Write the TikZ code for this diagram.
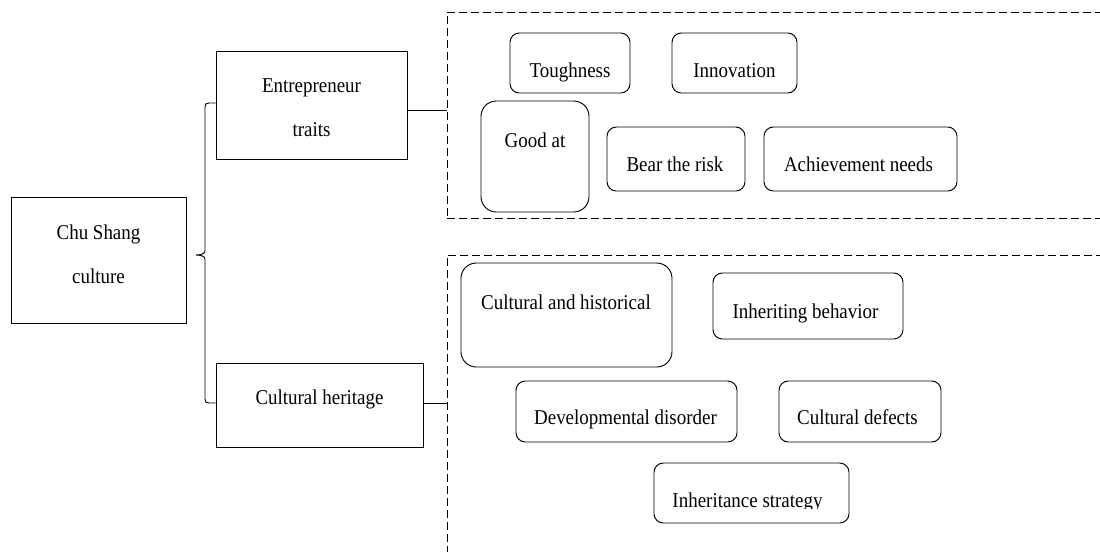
\documentclass[tikz,border=0pt]{standalone}
\usepackage{fontspec}
\setmainfont{Liberation Serif}[FakeStretch=0.9]
\begin{document}
\begin{tikzpicture}[x=0.75pt,y=-0.75pt,
  line width=0.7pt,
  wh/.style 2 args={minimum width=#1*0.75pt, minimum height=#2*0.75pt},
  sqbox/.style={draw, rectangle, inner sep=0pt},
  rbox/.style={draw, rectangle, rounded corners=7pt, inner sep=0pt},
  bigr/.style={rbox, rounded corners=11.5pt},
  group/.style={draw, rectangle, inner sep=0pt, line width=0.65pt, dash pattern=on 6pt off 3pt},
  lbl/.style={anchor=base, inner sep=0pt, font=\fontsize{15.8}{19}\selectfont}]
\useasboundingbox (0,0) rectangle (1100,551);
\clip (0,0) rectangle (1100,551);

% left part: root and the two branches
\node[sqbox, wh={175}{126}] (chu)   at (98.5,260) {};
\node[sqbox, wh={191}{108}] (entre) at (311.5,105) {};
\node[sqbox, wh={207}{84}]  (heri)  at (319.5,405) {};
\node[lbl] (chuA) at (98.5,239) {Chu Shang};
\node[lbl] (chuB) at (98.5,283) {culture};
\node[lbl] (entA) at (311.5,92) {Entrepreneur};
\node[lbl] (entB) at (311.5,136) {traits};
\node[lbl] (herA) at (319.5,404) {Cultural heritage};

% brace joining the branches
\draw (entre.west |- 0,103) -- (209,103) .. controls (206,103) and (205,104) .. (205,107)
  -- (205,251) .. controls (205,254) and (200,255) .. (196,255)
  .. controls (200,255) and (205,256) .. (205,259)
  -- (205,399) .. controls (205,402) and (206,403) .. (209,403) -- (heri.west |- 0,403);

% dashed groups
\node[group, wh={663}{206}] (grpA) at (778.5,115) {};
\node[group, wh={663}{315}] (grpB) at (778.5,412.5) {};
\draw (entre.east |- 0,110) -- (grpA.west |- 0,110);
\draw (heri.east |- 0,403) -- (grpB.west |- 0,403);

% entrepreneur traits
\node[rbox, wh={120}{60}]  (tough) at (570,63) {};
\node[rbox, wh={125}{60}]  (innov) at (734.5,63) {};
\node[bigr, wh={108}{111}] (good)  at (535,156.5) {};
\node[rbox, wh={138}{64}]  (risk)  at (676,159) {};
\node[rbox, wh={193}{64}]  (achv)  at (860.5,159) {};
\node[lbl] (toughT) at (570,77) {Toughness};
\node[lbl] (innovT) at (734.5,77) {Innovation};
\node[lbl] (goodT)  at (535,147) {Good at};
\node[lbl] (riskT)  at (675,171) {Bear the risk};
\node[lbl] (achvT)  at (858.5,171) {Achievement needs};

% cultural heritage
\node[bigr, wh={211}{104}] (hist)  at (566.5,315) {};
\node[rbox, wh={190}{66}]  (inhb)  at (808,306) {};
\node[rbox, wh={221}{61}]  (dev)   at (626.5,411.5) {};
\node[rbox, wh={162}{61}]  (defe)  at (860,411.5) {};
\node[rbox, wh={195}{60}]  (strat) at (751.5,493) {};
\node[lbl] (histT) at (566,309) {Cultural and historical};
\node[lbl] (inhbT) at (805.5,318) {Inheriting behavior};
\node[lbl] (devT)  at (625.5,424) {Developmental disorder};
\node[lbl] (defeT) at (857.5,424) {Cultural defects};
\begin{scope}
  \clip (654,463) rectangle (849,508.5);
  \node[lbl] (stratT) at (747.5,507) {Inheritance strategy};
\end{scope}
\end{tikzpicture}
\end{document}
